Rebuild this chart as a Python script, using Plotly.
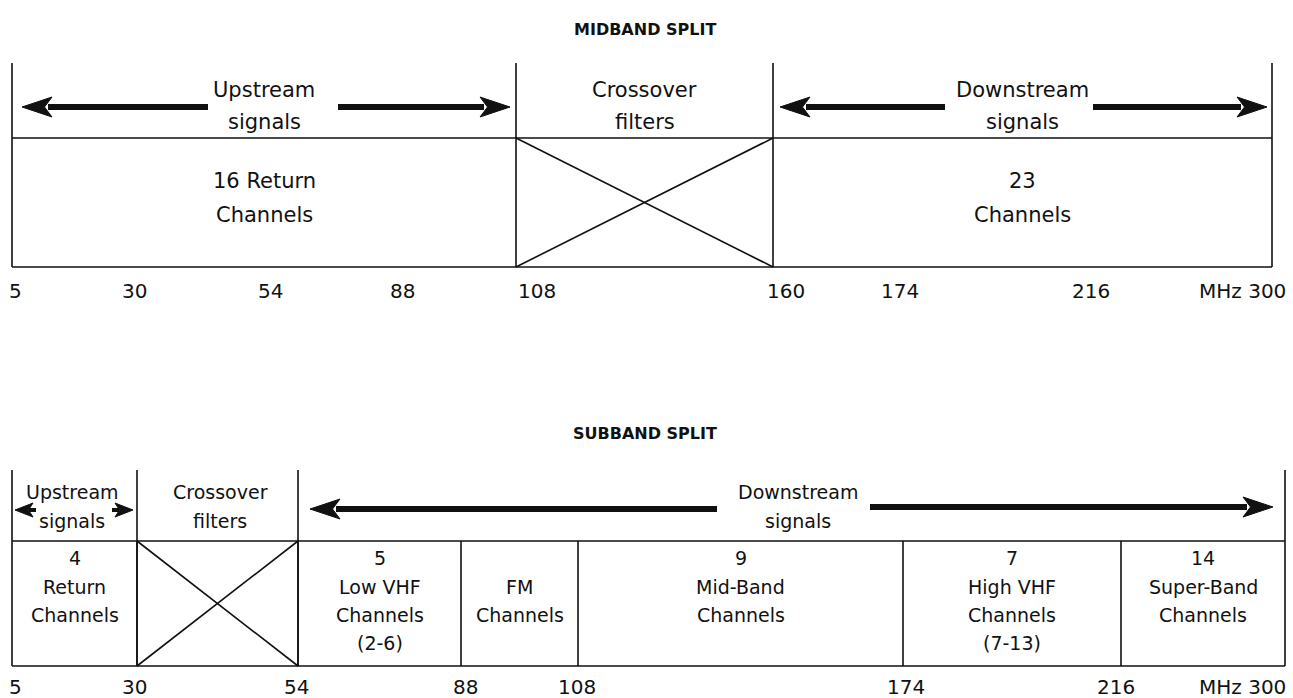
import plotly.graph_objects as go

# ---------------- data ----------------
mid_title = "MIDBAND SPLIT"
sub_title = "SUBBAND SPLIT"

mid_tick_freqs = [5, 30, 54, 88, 108, 160, 174, 216, 300]
mid_tick_labels = ["5", "30", "54", "88", "108", "160", "174", "216", "MHz 300"]
mid_band_edges = [5, 108, 160, 300]
mid_upper_labels = ["Upstream<br>signals", "Crossover<br>filters", "Downstream<br>signals"]
mid_lower_labels = ["16 Return<br>Channels", "", "23<br>Channels"]
mid_crossover = [108, 160]

sub_tick_freqs = [5, 30, 54, 88, 108, 174, 216, 300]
sub_tick_labels = ["5", "30", "54", "88", "108", "174", "216", "MHz 300"]
sub_upper_edges = [5, 30, 54, 300]
sub_upper_labels = ["Upstream<br>signals", "Crossover<br>filters", "Downstream<br>signals"]
sub_lower_edges = [5, 30, 54, 88, 108, 174, 216, 300]
sub_lower_labels = ["4<br>Return<br>Channels", "", "5<br>Low VHF<br>Channels<br>(2-6)",
                    " <br>FM<br>Channels", "9<br>Mid-Band<br>Channels",
                    "7<br>High VHF<br>Channels<br>(7-13)", "14<br>Super-Band<br>Channels"]
sub_crossover = [30, 54]

# ---------------- layout (schematic, not to scale) ----------------
mid_x = {5: 12, 108: 516, 160: 773, 300: 1272}
mid_tick_x = {5: 15, 30: 134, 54: 270, 88: 402, 108: 537, 160: 786, 174: 900, 216: 1091}
sub_x = {5: 12, 30: 137, 54: 298, 88: 461, 108: 578, 174: 903, 216: 1121, 300: 1285}
sub_tick_x = {5: 15, 30: 134, 54: 296, 88: 465, 108: 577, 174: 906, 216: 1116}

MID = dict(top=63, mid=138, bot=267, arrow=107, up_lines=[90, 122], low_lines=[181, 215], tick=291, title=29)
SUB = dict(top=470, mid=541, bot=666, arrow=509, up_lines=[492, 521], low_lines=[558, 587, 615, 643], tick=687, title=433)

FONT = "DejaVu Sans"
INK = "#111111"
LW = 1.6

shapes = []
annotations = []


def line(x0, y0, x1, y1, w=LW):
    shapes.append(dict(type="line", xref="x", yref="y", x0=x0, y0=y0, x1=x1, y1=y1,
                       line=dict(color=INK, width=w)))


def text(x, y, s, size=20, bold=False, xanchor="center"):
    annotations.append(dict(x=x, y=y, xref="x", yref="y", text=(f"<b>{s}</b>" if bold else s),
                            showarrow=False, xanchor=xanchor, yanchor="middle",
                            font=dict(family=FONT, size=size, color=INK)))


def multiline(xc, ys, s, size):
    for yy, part in zip(ys, s.split("<br>")):
        if part.strip():
            text(xc, yy, part, size)


def arrow(x_from, x_to, y, head_len=30, head_half=10, shaft=6):
    d = 1 if x_to > x_from else -1
    base = x_to - d * head_len
    line(x_from, y, base + d * 4, y, w=shaft)
    notch = x_to - d * head_len * 0.75
    path = (f"M {x_to},{y} L {base},{y - head_half} L {notch},{y} "
            f"L {base},{y + head_half} Z")
    shapes.append(dict(type="path", xref="x", yref="y", path=path,
                       fillcolor=INK, line=dict(color=INK, width=1)))


# ---------------- MIDBAND ----------------
text(645, MID["title"], mid_title, size=16, bold=True)
L, R = mid_x[mid_band_edges[0]], mid_x[mid_band_edges[-1]]
for f in mid_band_edges:
    line(mid_x[f], MID["top"], mid_x[f], MID["bot"])
line(L, MID["mid"], R, MID["mid"])
line(L, MID["bot"], R, MID["bot"])
cx0, cx1 = mid_x[mid_crossover[0]], mid_x[mid_crossover[1]]
line(cx0, MID["mid"], cx1, MID["bot"])
line(cx0, MID["bot"], cx1, MID["mid"])
for i in range(3):
    a, b = mid_x[mid_band_edges[i]], mid_x[mid_band_edges[i + 1]]
    xc = (a + b) / 2
    multiline(xc, MID["up_lines"], mid_upper_labels[i], 21)
    if mid_lower_labels[i]:
        multiline(xc, MID["low_lines"], mid_lower_labels[i], 21)
# arrows (segment extents around the labels)
arrow(208, 22, MID["arrow"])
arrow(338, 510, MID["arrow"])
arrow(945, 780, MID["arrow"])
arrow(1093, 1267, MID["arrow"])
for f, lab in zip(mid_tick_freqs, mid_tick_labels):
    if f == 300:
        text(1288, MID["tick"], lab, 20, xanchor="right")
    else:
        text(mid_tick_x[f], MID["tick"], lab, 20)

# ---------------- SUBBAND ----------------
text(645, SUB["title"], sub_title, size=16, bold=True)
L, R = sub_x[sub_lower_edges[0]], sub_x[sub_lower_edges[-1]]
for f in sub_upper_edges:
    line(sub_x[f], SUB["top"], sub_x[f], SUB["bot"])
for f in sub_lower_edges[1:-1]:
    line(sub_x[f], SUB["mid"], sub_x[f], SUB["bot"])
line(L, SUB["mid"], R, SUB["mid"])
line(L, SUB["bot"], R, SUB["bot"])
cx0, cx1 = sub_x[sub_crossover[0]], sub_x[sub_crossover[1]]
line(cx0, SUB["mid"], cx1, SUB["bot"])
line(cx0, SUB["bot"], cx1, SUB["mid"])
up_centers = [72, 220, 798]
for xc, lab in zip(up_centers, sub_upper_labels):
    multiline(xc, SUB["up_lines"], lab, 19)
for i, lab in enumerate(sub_lower_labels):
    if not lab:
        continue
    a, b = sub_x[sub_lower_edges[i]], sub_x[sub_lower_edges[i + 1]]
    multiline((a + b) / 2, SUB["low_lines"], lab, 19)
arrow(36, 15, 510, head_len=18, head_half=7, shaft=4)
arrow(112, 133, 510, head_len=18, head_half=7, shaft=4)
arrow(717, 310, SUB["arrow"])
arrow(870, 1273, SUB["arrow"] - 2)
for f, lab in zip(sub_tick_freqs, sub_tick_labels):
    if f == 300:
        text(1288, SUB["tick"], lab, 20, xanchor="right")
    else:
        text(sub_tick_x[f], SUB["tick"], lab, 20)

fig = go.Figure()
fig.update_layout(
    width=1293, height=698,
    margin=dict(l=0, r=0, t=0, b=0),
    paper_bgcolor="white", plot_bgcolor="white",
    xaxis=dict(range=[0, 1293], visible=False, fixedrange=True),
    yaxis=dict(range=[698, 0], visible=False, fixedrange=True),
    shapes=shapes, annotations=annotations, showlegend=False,
)
fig.write_html(
    "out.html",
    config={"displayModeBar": False},
    post_script="document.body.style.margin='0';document.body.style.overflow='hidden';",
)
